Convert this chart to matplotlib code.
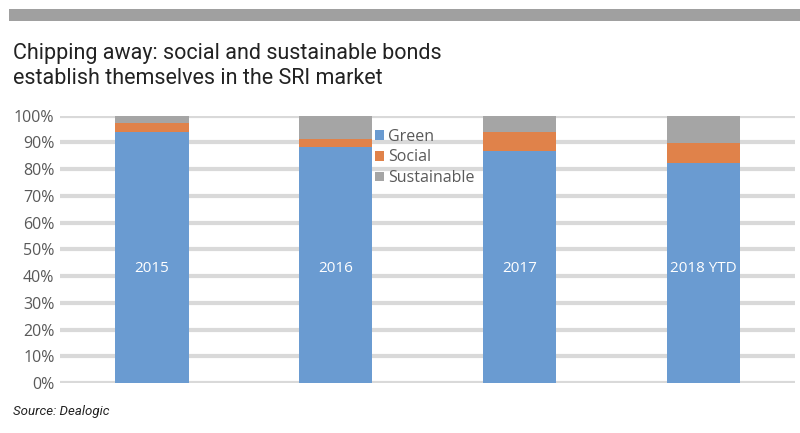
import numpy as np
import matplotlib.pyplot as plt
from matplotlib.patches import Rectangle

# data (share of SRI issuance, %)
years = ['2015', '2016', '2017', '2018 YTD']
green = [93.8, 88.4, 86.6, 82.3]
social = [3.3, 2.9, 7.1, 7.4]
sustainable = [100 - g - s for g, s in zip(green, social)]

blue = '#6a9bd1'
orange = '#e0824a'
grey = '#a5a5a5'

plt.rcParams['font.family'] = ['Open Sans', 'DejaVu Sans']
narrow = ['Roboto', 'DejaVu Sans']

fig = plt.figure(figsize=(8, 4.33), dpi=100)
ax = fig.add_axes([0.075, 0.115, 0.919, 0.618])

x = np.arange(len(years))
w = 0.4
ax.bar(x, green, w, color=blue, label='Green', zorder=3)
ax.bar(x, social, w, bottom=green, color=orange, label='Social', zorder=3)
ax.bar(x, sustainable, w, bottom=np.array(green) + np.array(social),
       color=grey, label='Sustainable', zorder=3)

for xi, yr in zip(x, years):
    ax.text(xi, 43, yr, color='white', ha='center', va='center',
            fontsize=11, zorder=4)

ax.set_xlim(-0.5, len(years) - 0.5)
ax.set_ylim(0, 100)
ax.set_yticks(np.arange(0, 101, 10))
ax.set_yticklabels([f'{v}%' for v in range(0, 101, 10)])
ax.yaxis.grid(True, color='#d9d9d9', linewidth=3, zorder=0)
ax.set_xticks([])
ax.tick_params(axis='y', length=0, labelsize=11.5, labelcolor='#595959', pad=4)
for s in ax.spines.values():
    s.set_visible(False)

leg = ax.legend(loc='upper left', bbox_to_anchor=(0.42, 0.975), frameon=False,
                fontsize=11.5, handlelength=0.55, handleheight=0.55,
                handletextpad=0.25, labelspacing=0.3, borderaxespad=0)
for t in leg.get_texts():
    t.set_color('#595959')

# header band and title
fig.add_artist(Rectangle((0.011, 0.951), 0.989, 0.028, transform=fig.transFigure,
                         color='#a0a0a0', lw=0))
fig.text(0.016, 0.9, 'Chipping away: social and sustainable bonds\nestablish themselves in the SRI market',
         fontsize=15.5, color='#222222', va='top', ha='left', linespacing=1.2,
         family=narrow)
fig.text(0.016, 0.065, 'Source: Dealogic', fontsize=9.5, style='italic',
         color='#222222', va='top', ha='left', family=narrow)

fig.savefig('out.png', dpi=100)
